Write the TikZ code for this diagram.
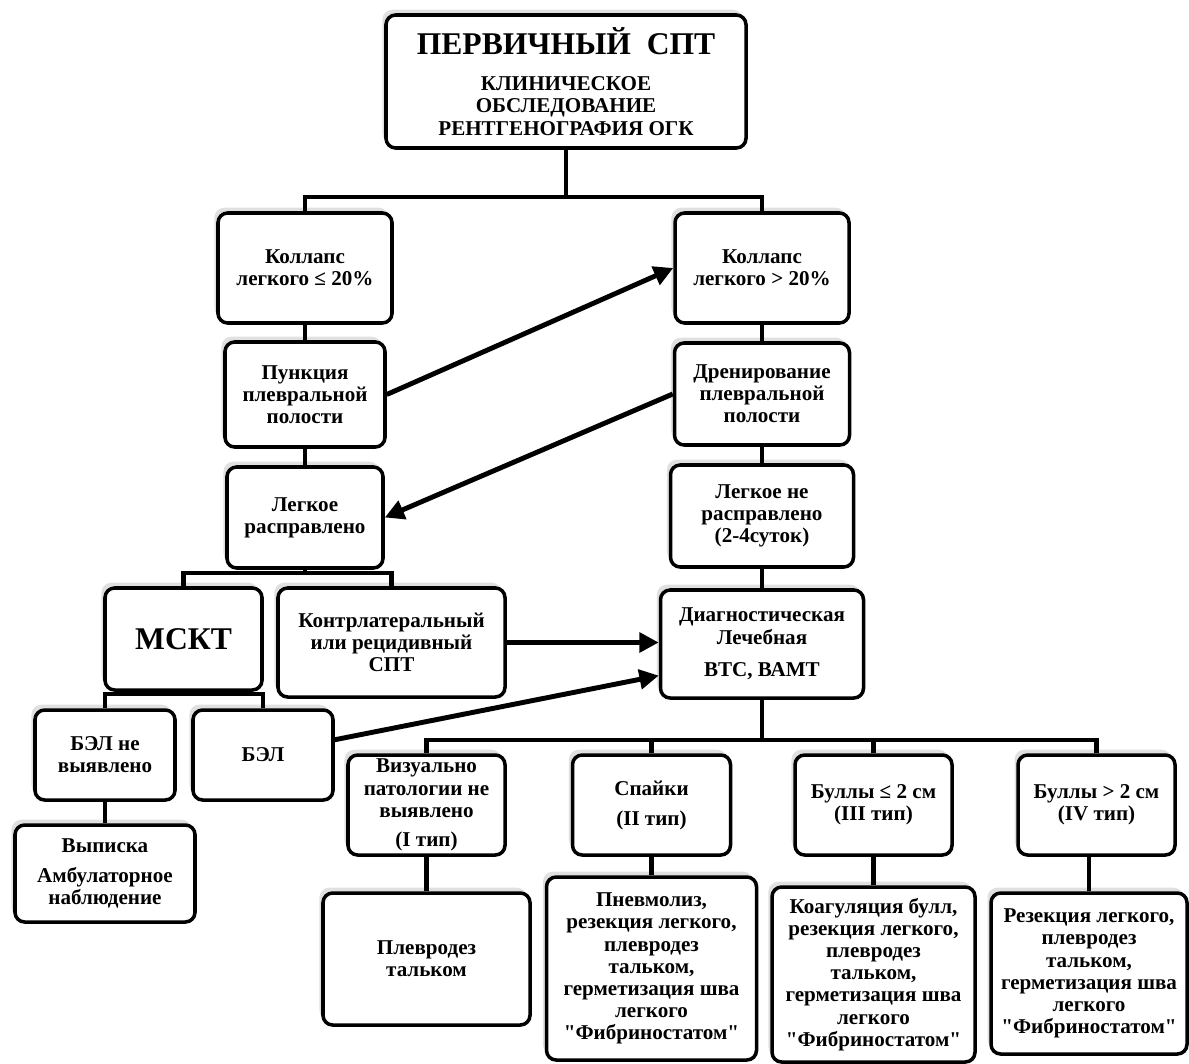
\documentclass[tikz,border=0pt]{standalone}
\usepackage{fontspec}
\setmainfont{Liberation Serif}[BoldFont={Liberation Serif Bold}]
\usepackage{tikz}
\usetikzlibrary{arrows.meta}
\usetikzlibrary{shadows}

\begin{document}
\begin{tikzpicture}
          [x=0.02cm, y=-0.02cm,
           box/.style={draw, line width=2pt, rounded corners=5.5pt, fill=white,
             align=center, inner sep=0pt,
             font=\rmfamily\bfseries\fontsize{12}{12.6}\selectfont,
             drop shadow={shadow xshift=-2pt, shadow yshift=3pt, fill=black!12, opacity=1}},
           sz/.style 2 args={minimum width=#1*0.02cm, minimum height=#2*0.02cm},
           link/.style={line width=2.4pt},
           arr/.style={line width=2.8pt, -{Triangle[length=11pt, width=11pt]}}]
          \useasboundingbox (0,0) rectangle (1189,1064);

          \node[box, sz={360}{133}] (top) at (566,81.5)
            {{\fontsize{18}{20}\selectfont ПЕРВИЧНЫЙ\ \ СПТ}\\[8pt]
             КЛИНИЧЕСКОЕ\\ ОБСЛЕДОВАНИЕ\\ РЕНТГЕНОГРАФИЯ ОГК};
          \node[box, sz={174}{110}] (c1) at (305,268) {Коллапс\\ легкого ≤ 20\%};
          \node[box, sz={174}{110}] (c2) at (762,268) {Коллапс\\ легкого > 20\%};
          \node[box, sz={160}{105}] (p1) at (305,394.5) {Пункция\\ плевральной\\ полости};
          \node[box, sz={175}{102}] (p2) at (762,394) {Дренирование\\ плевральной\\ полости};
          \node[box, sz={156}{101}] (l1) at (305,517.5) {Легкое\\ расправлено};
          \node[box, sz={183}{102}] (l2) at (762,516) {Легкое не\\ расправлено\\ (2-4суток)};
          \node[box, sz={157}{102}] (msct) at (183.5,639)
            {\fontsize{18}{20}\selectfont МСКТ};
          \node[box, sz={227}{109}] (contra) at (391.5,642.5)
            {Контрлатеральный\\ или рецидивный\\ СПТ};
          \node[box, sz={203}{108}] (vts) at (762,644)
            {Диагностическая\\ Лечебная\\[6pt] ВТС, ВАМТ};
          \node[box, sz={140}{90}] (bel0) at (105,755) {БЭЛ не\\ выявлено};
          \node[box, sz={140}{90}] (bel) at (263,755) {БЭЛ};
          \node[box, sz={180}{97}] (vyp) at (105,873.5)
            {Выписка\\[4.5pt] Амбулаторное\\ наблюдение};
          \node[box, sz={157}{100}] (t1) at (426.5,805)
            {Визуально\\ патологии не\\ выявлено\\[4pt] (I тип)};
          \node[box, sz={158}{100}] (t2) at (651.5,805) {Спайки\\[4.5pt] (II тип)};
          \node[box, sz={157}{100}] (t3) at (873.5,805) {Буллы ≤ 2 см\\ (III тип)};
          \node[box, sz={157}{100}] (t4) at (1096.5,805) {Буллы > 2 см\\ (IV тип)};
          \node[box, sz={207}{132}] (r1) at (426.5,959) {Плевродез\\ тальком};
          \node[box, sz={210}{183}] (r2) at (651.5,968.5)
            {Пневмолиз,\\ резекция легкого,\\ плевродез\\ тальком,\\
             герметизация шва\\ легкого\\ \textquotedbl Фибриностатом\textquotedbl};
          \node[box, sz={203}{175}] (r3) at (873.5,974.5)
            {Коагуляция булл,\\ резекция легкого,\\ плевродез\\ тальком,\\
             герметизация шва\\ легкого\\ \textquotedbl Фибриностатом\textquotedbl};
          \node[box, sz={196}{161}] (r4) at (1089,973.5)
            {Резекция легкого,\\ плевродез\\ тальком,\\
             герметизация шва\\ легкого\\ \textquotedbl Фибриностатом\textquotedbl};

          \coordinate (j0) at (566,197);
          \coordinate (j1) at (305,573);
          \coordinate (j2) at (183.5,694);
          \coordinate (j3) at (762,740);

          \draw[link] (top) -- (j0);
          \draw[link] (j0) -| (c1);
          \draw[link] (j0) -| (c2);
          \draw[link] (c1) -- (p1);
          \draw[link] (p1) -- (l1);
          \draw[link] (c2) -- (p2);
          \draw[link] (p2) -- (l2);
          \draw[link] (l2) -- (vts);
          \draw[link] (l1) -- (j1);
          \draw[link] (j1) -| (msct);
          \draw[link] (j1) -| (contra);
          \draw[link] (msct) -- (j2);
          \draw[link] (j2) -| (bel0);
          \draw[link] (j2) -| (bel);
          \draw[link] (bel0) -- (vyp);
          \draw[link] (vts) -- (j3);
          \draw[link] (j3) -| (t1);
          \draw[link] (j3) -| (t2);
          \draw[link] (j3) -| (t3);
          \draw[link] (j3) -| (t4);
          \draw[link] (t1) -- (r1);
          \draw[link] (t2) -- (r2);
          \draw[link] (t3) -- (r3);
          \draw[link] (t4.south -| r4) -- (r4);

          \draw[arr] (p1.east) -- (c2.west);
          \draw[arr] (p2.west) -- (l1.east);
          \draw[arr] (contra.east) -- (contra.east -| vts.west);
          \draw[arr] (bel.12) -- (vts.197);
        \end{tikzpicture}
\end{document}
